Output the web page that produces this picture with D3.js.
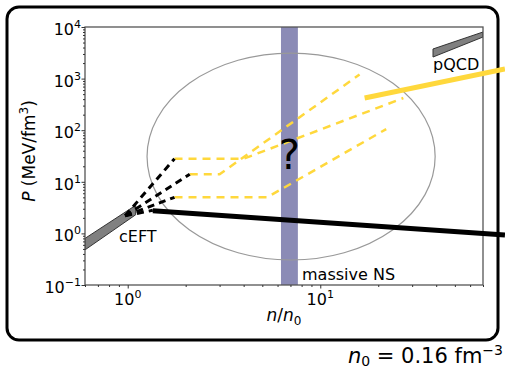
<html>

<head>
    <script src="https://d3js.org/d3.v7.min.js"></script>
    <style>
        body { margin: 0; background: #fff; }
        text { font-family: "DejaVu Sans", sans-serif; fill: #000; }
    </style>
</head>

<body>

    <svg id="svgMain" width="505" height="369" style="background: #fff"></svg>

    <script id="scriptMain">

        // axis ranges and ticks
        const xDomain = [0.6, 70];
        const yDomain = [0.1, 1e4];
        const xMajor = [1, 10];
        const xPowers = ["0", "1"];
        const yMajor = [0.1, 1, 10, 100, 1000, 10000];
        const yPowers = ["\u22121", "0", "1", "2", "3", "4"];

        // bands (n/n0, P)
        const cEFTUpper = [[0.6, 0.8], [1.1, 3.5]];
        const cEFTLower = [[0.6, 0.48], [1.1, 2.3]];
        const pQCDUpper = [[38.5, 3750], [70, 8000]];
        const pQCDLower = [[38.5, 2620], [70, 6400]];
        const massiveNS = [6.25, 7.65];

        // ellipse extent
        const ellipseN = [1.26, 39.5];
        const ellipseP = [0.305, 3130];

        // black dashed extrapolations out of cEFT
        const dashStart = [0.97, 2.2];
        const dashEnds = [[1.75, 28], [2.1, 14], [1.75, 5], [1.35, 2.8]];

        // yellow dashed EOS
        const yellowA = [[1.75, 28], [4, 28], [27, 420]];
        const yellowB = [[2.1, 14], [3, 14], [16, 1200]];
        const yellowC = [[1.75, 5], [5.3, 5], [22, 105]];

        // thick solid lines
        const yellowSolid = [[17, 420], [91, 1530]];
        const blackSolid = [[1.35, 2.75], [91, 0.93]];

        const svg = d3.select("#svgMain");
        const pLeft = 85, pRight = 483, pTop = 27, pBottom = 285;

        const x = d3.scaleLog().domain(xDomain).range([pLeft, pRight]);
        const y = d3.scaleLog().domain(yDomain).range([pBottom, pTop]);

        const line = d3.line().x(d => x(d[0])).y(d => y(d[1]));
        const yellow = "#ffd83c";

        // outer rounded box
        svg.append("rect")
            .attr("x", 7).attr("y", 7)
            .attr("width", 491).attr("height", 333)
            .attr("rx", 12)
            .attr("fill", "none")
            .attr("stroke", "#000")
            .attr("stroke-width", 3);

        // clip for the plot area
        svg.append("clipPath").attr("id", "plotClip")
            .append("rect")
            .attr("x", pLeft).attr("y", pTop)
            .attr("width", pRight - pLeft).attr("height", pBottom - pTop);

        const plot = svg.append("g").attr("clip-path", "url(#plotClip)");

        // massive NS band
        plot.append("rect")
            .attr("x", x(massiveNS[0]))
            .attr("y", pTop)
            .attr("width", x(massiveNS[1]) - x(massiveNS[0]))
            .attr("height", pBottom - pTop)
            .attr("fill", "#8b8bb6");

        // ellipse
        plot.append("ellipse")
            .attr("cx", (x(ellipseN[0]) + x(ellipseN[1])) / 2)
            .attr("cy", (y(ellipseP[0]) + y(ellipseP[1])) / 2)
            .attr("rx", (x(ellipseN[1]) - x(ellipseN[0])) / 2)
            .attr("ry", (y(ellipseP[0]) - y(ellipseP[1])) / 2)
            .attr("fill", "none")
            .attr("stroke", "#999")
            .attr("stroke-width", 1.2);

        // gray bands
        [[cEFTUpper, cEFTLower], [pQCDUpper, pQCDLower]].forEach(b => {
            const pts = b[0].concat(b[1].slice().reverse());
            plot.append("path")
                .attr("d", line(pts) + "Z")
                .attr("fill", "#808080")
                .attr("stroke", "#333")
                .attr("stroke-width", 1);
        });

        // yellow dashed
        [yellowA, yellowB, yellowC].forEach(d => {
            plot.append("path")
                .attr("d", line(d))
                .attr("fill", "none")
                .attr("stroke", yellow)
                .attr("stroke-width", 2.5)
                .attr("stroke-dasharray", "8,6");
        });

        // black dashed
        dashEnds.forEach(e => {
            plot.append("path")
                .attr("d", line([dashStart, e]))
                .attr("fill", "none")
                .attr("stroke", "#000")
                .attr("stroke-width", 3)
                .attr("stroke-dasharray", "7,5");
        });

        // frame
        svg.append("rect")
            .attr("x", pLeft).attr("y", pTop)
            .attr("width", pRight - pLeft).attr("height", pBottom - pTop)
            .attr("fill", "none")
            .attr("stroke", "#555")
            .attr("stroke-width", 1.3);

        // ticks
        const xMinor = [];
        const yMinor = [];
        [0.1, 1, 10].forEach(p => { for (let k = 2; k <= 9; k++) xMinor.push(k * p); });
        [0.1, 1, 10, 100, 1000].forEach(p => { for (let k = 2; k <= 9; k++) yMinor.push(k * p); });

        const xAxisG = svg.append("g").attr("transform", "translate(0," + pBottom + ")");
        xAxisG.append("g").call(d3.axisBottom(x).tickValues(xMinor.filter(v => v >= xDomain[0] && v <= xDomain[1])).tickSize(2).tickFormat(""));
        xAxisG.append("g").call(d3.axisBottom(x).tickValues(xMajor).tickSize(3.5).tickFormat(""));

        const yAxisG = svg.append("g").attr("transform", "translate(" + pLeft + ",0)");
        yAxisG.append("g").call(d3.axisLeft(y).tickValues(yMinor).tickSize(2).tickFormat(""));
        yAxisG.append("g").call(d3.axisLeft(y).tickValues(yMajor).tickSize(3.5).tickFormat(""));

        svg.selectAll(".domain").remove();
        svg.selectAll(".tick line").attr("stroke", "#333").attr("stroke-width", 1);

        // tick labels
        xMajor.forEach((v, i) => {
            const t = svg.append("text")
                .attr("x", x(v))
                .attr("y", 305)
                .attr("text-anchor", "middle")
                .attr("font-size", 16);
            t.append("tspan").text("10");
            t.append("tspan").attr("font-size", 11).attr("dy", -7).text(xPowers[i]);
        });

        yMajor.forEach((v, i) => {
            const t = svg.append("text")
                .attr("x", 81)
                .attr("y", y(v) + 8)
                .attr("text-anchor", "end")
                .attr("font-size", 16);
            t.append("tspan").text("10");
            t.append("tspan").attr("font-size", 11).attr("dy", -7).text(yPowers[i]);
        });

        // axis labels
        const xl = svg.append("text")
            .attr("x", (pLeft + pRight) / 2)
            .attr("y", 321)
            .attr("text-anchor", "middle")
            .attr("font-size", 17);
        xl.append("tspan").attr("font-style", "italic").text("n");
        xl.append("tspan").text("/");
        xl.append("tspan").attr("font-style", "italic").text("n");
        xl.append("tspan").attr("font-size", 12).attr("dy", 4).text("0");

        const yl = svg.append("text")
            .attr("transform", "translate(35," + 151 + ") rotate(-90)")
            .attr("text-anchor", "middle")
            .attr("font-size", 17);
        yl.append("tspan").attr("font-style", "italic").text("P");
        yl.append("tspan").text(" (MeV/fm");
        yl.append("tspan").attr("font-size", 12).attr("dy", -7).text("3");
        yl.append("tspan").attr("dy", 7).text(")");

        // thick solid lines, not clipped
        svg.append("path")
            .attr("d", line(blackSolid))
            .attr("fill", "none")
            .attr("stroke", "#000")
            .attr("stroke-width", 5);

        svg.append("path")
            .attr("d", line(yellowSolid))
            .attr("fill", "none")
            .attr("stroke", yellow)
            .attr("stroke-width", 5);

        // annotations
        svg.append("text").attr("x", 119).attr("y", 242).attr("font-size", 16).text("cEFT");
        svg.append("text").attr("x", 433).attr("y", 70).attr("font-size", 16).text("pQCD");
        svg.append("text").attr("x", 302).attr("y", 280).attr("font-size", 16).text("massive NS");
        svg.append("text")
            .attr("x", x(Math.sqrt(massiveNS[0] * massiveNS[1])))
            .attr("y", 169)
            .attr("text-anchor", "middle")
            .attr("font-size", 40)
            .text("?");

        const n0 = svg.append("text")
            .attr("x", 503)
            .attr("y", 363)
            .attr("text-anchor", "end")
            .attr("font-size", 21);
        n0.append("tspan").attr("font-style", "italic").text("n");
        n0.append("tspan").attr("font-size", 14).attr("dy", 3).text("0");
        n0.append("tspan").attr("dy", -3).text(" = 0.16 fm");
        n0.append("tspan").attr("font-size", 14).attr("dy", -8).text("\u22123");

    </script>

</body>

</html>
